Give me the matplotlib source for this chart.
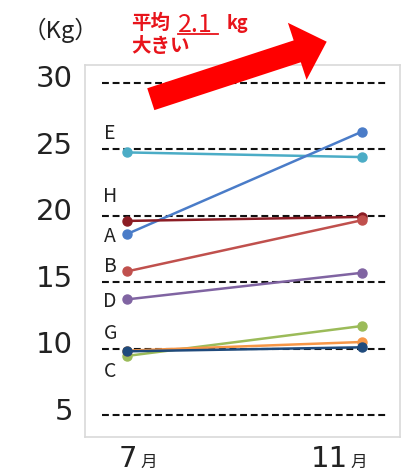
import matplotlib
matplotlib.use("Agg")
import numpy as np
import matplotlib.pyplot as plt
import matplotlib.transforms as mtransforms
from matplotlib.patches import Polygon
from matplotlib.lines import Line2D

plt.rcParams["font.family"] = ["Noto Sans CJK JP", "DejaVu Sans"]

# データ (7月 -> 11月, kg)
months = ["7", "11"]
names = ["A", "B", "C", "D", "E", "F", "G", "H"]
july = [18.6, 15.8, 9.8, 13.7, 24.75, 9.85, 9.45, 19.6]
november = [26.3, 19.65, 10.1, 15.7, 24.4, 10.5, 11.7, 19.9]
colors = ["#4a7cc8", "#c0504d", "#1f4a7c", "#8064a2", "#4bacc6",
          "#f79646", "#9bbb59", "#8b1c24"]
grid_values = [5, 10, 15, 20, 25, 30]
# ラベル位置 (名前, y)
label_names = ["E", "H", "A", "B", "D", "G", "C"]
label_y = [26.2, 21.45, 18.45, 16.2, 13.55, 11.15, 8.3]

W, H = 405, 474
fig = plt.figure(figsize=(W / 100, H / 100), dpi=100)
ax = fig.add_axes([85 / W, 1 - 437 / H, (400 - 85) / W, (437 - 65) / H])


def px(x, y):
    # ピクセル座標 -> figure座標
    return (x / W, 1 - y / H)


# 点線のグリッド
ax.hlines(grid_values, -0.105, 1.108, colors="#111111", linewidth=1.5,
          linestyles=(0, (3.3, 1.8)), zorder=1)

# 線の描画 (Cを最前面に)
order = [4, 0, 7, 1, 3, 6, 5, 2]
xs = np.arange(len(months))
for i in order:
    ax.plot(xs, [july[i], november[i]], color=colors[i], linewidth=1.8,
            marker="o", markersize=6.5, zorder=3)

for name, y in zip(label_names, label_y):
    ax.text(-0.07, y, name, fontsize=14, color="#222222",
            ha="center", va="center")

ax.set_xlim(-0.177, 1.163)
ax.set_ylim(3.36, 31.32)
ax.set_yticks(grid_values)
ax.set_yticklabels([str(v) for v in grid_values], fontsize=21,
                   color="#222222", family="DejaVu Sans")
ax.tick_params(axis="y", length=0, pad=8.5)
ax.set_xticks([])
offset = mtransforms.ScaledTranslation(0, 4.5 / 72, fig.dpi_scale_trans)
for lbl in ax.get_yticklabels():
    lbl.set_transform(lbl.get_transform() + offset)

for sp in ax.spines.values():
    sp.set_color("#d9d9d9")
    sp.set_linewidth(1.2)

# 月ラベル
month_x = [0.045, 0.94]
tr = ax.get_xaxis_transform()
for m, mx in zip(months, month_x):
    ax.text(mx, -0.081, m, transform=tr, fontsize=21, color="#222222",
            family="DejaVu Sans", ha="right", va="baseline")
    ax.text(mx + 0.012, -0.081, "月", transform=tr, fontsize=12,
            color="#222222", ha="left", va="baseline")

# 単位
fig.text(*px(23, 30), "（Kg）", fontsize=17, color="#222222",
         ha="left", va="center")

# 赤い矢印
tail = np.array([150.8, 99.2])
tip = np.array([326.7, 41.7])
d = tip - tail
L = np.hypot(*d)
u = d / L
n = np.array([-u[1], u[0]])
if n[1] < 0:
    n = -n
w, hw, hl = 11.5, 30.0, 31.0
base = tail + (L - hl) * u
pts = [tail - w * n, base - w * n, base - hw * n, tip,
       base + hw * n, base + w * n, tail + w * n]
arrow = Polygon([px(*p) for p in pts], closed=True, transform=fig.transFigure,
                facecolor="#ff0000", edgecolor="none", zorder=10)
fig.add_artist(arrow)

# 赤い文字
red = "#e8141b"
fig.text(*px(131, 23), "平均", fontsize=14, color=red, fontweight="bold",
         ha="left", va="center")
fig.text(*px(178, 32), "2.1", fontsize=18, color=red,
         ha="left", va="baseline")
fig.add_artist(Line2D([178 / W, 218 / W], [1 - 34 / H, 1 - 34 / H],
                      color=red, linewidth=1.3, transform=fig.transFigure))
fig.text(*px(227, 29), "kg", fontsize=13, color=red, fontweight="bold",
         ha="left", va="baseline")
fig.text(*px(131, 46), "大きい", fontsize=14, color=red, fontweight="bold",
         ha="left", va="center")

fig.savefig("out.png", dpi=100)
